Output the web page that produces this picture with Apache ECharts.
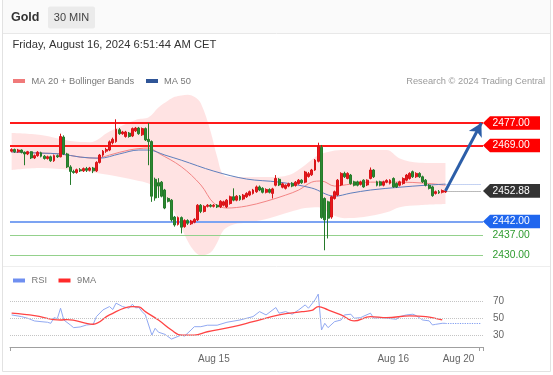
<!DOCTYPE html>
<html><head><meta charset="utf-8">
<script src="https://cdn.jsdelivr.net/npm/echarts@6/dist/echarts.min.js"></script>
<style>html,body{margin:0;padding:0;background:#fff;}#c{width:553px;height:375px;}</style>
</head><body><div id="c"></div>
<script>
const title = 'Gold';
const timeframe = '30 MIN';
const timestamp = 'Friday, August 16, 2024 6:51:44 AM CET';
const credit = 'Research \u00A9 2024 Trading Central';
const legendMain = ['MA 20 + Bollinger Bands', 'MA 50'];
const legendRsi = ['RSI', '9MA'];

const slotCount = 145;
const xTickLabels = ['Aug 15', 'Aug 16', 'Aug 20'];
const xTickSlots = [62, 117, 137];

// [open, close, low, high]
const candles = [
[2467.0,2467.6,2466.6,2468.0],[2467.6,2466.8,2466.4,2467.9],[2466.8,2467.4,2466.4,2467.8],[2467.4,2466.6,2466.2,2467.6],[2466.6,2466.0,2462.0,2466.9],
[2466.0,2466.8,2465.6,2467.1],[2466.8,2464.6,2464.2,2467.0],[2464.6,2465.4,2464.2,2465.8],[2465.4,2466.6,2465.0,2467.0],[2466.4,2465.2,2464.8,2466.8],
[2465.2,2464.4,2464.0,2465.6],[2464.4,2465.0,2464.0,2465.4],[2465.0,2463.6,2463.2,2465.4],[2463.6,2465.4,2463.2,2465.8],[2465.4,2465.0,2464.6,2465.8],
[2465.0,2472.2,2464.8,2473.2],[2472.0,2466.0,2465.6,2472.6],[2466.0,2461.4,2461.0,2466.4],[2461.4,2459.8,2455.0,2462.0],[2459.8,2459.4,2459.0,2460.4],
[2459.4,2460.4,2459.0,2460.8],[2460.4,2460.0,2459.6,2461.0],[2460.0,2460.8,2459.6,2461.2],[2460.8,2460.2,2459.6,2461.4],[2460.2,2461.0,2459.8,2461.4],
[2461.0,2460.0,2459.2,2461.4],[2460.0,2463.0,2459.6,2463.4],[2463.0,2465.6,2462.6,2466.0],[2465.6,2467.0,2465.0,2467.4],[2467.0,2467.6,2466.4,2468.2],
[2467.4,2470.3,2467.0,2470.8],[2470.0,2471.2,2469.4,2471.8],[2470.4,2474.8,2470.0,2478.3],[2474.6,2473.2,2472.8,2475.2],[2473.2,2473.8,2472.8,2474.2],
[2472.2,2473.8,2471.8,2474.2],[2473.4,2472.2,2471.8,2473.8],[2472.4,2475.0,2472.0,2475.4],[2474.2,2475.2,2473.8,2475.6],[2475.2,2473.2,2472.8,2475.6],
[2472.8,2475.0,2472.4,2475.4],[2475.0,2471.0,2470.6,2475.4],[2471.2,2470.4,2462.0,2477.0],[2470.4,2451.0,2449.0,2470.8],[2457.0,2450.4,2449.4,2457.6],
[2455.8,2454.6,2450.4,2457.4],[2456.0,2451.0,2450.6,2456.4],[2453.2,2446.8,2446.4,2453.6],[2450.2,2449.2,2448.8,2450.6],[2449.6,2442.6,2442.0,2450.0],
[2443.6,2440.8,2440.2,2444.0],[2441.0,2443.4,2440.6,2443.8],[2443.4,2440.0,2437.8,2443.8],[2440.2,2442.4,2439.8,2442.8],[2442.4,2441.4,2440.8,2442.8],
[2441.2,2442.2,2440.8,2442.6],[2441.8,2442.8,2441.4,2443.2],[2442.6,2447.8,2442.2,2448.2],[2447.8,2445.6,2445.0,2448.2],[2445.6,2447.4,2445.2,2447.8],
[2447.4,2447.8,2447.0,2448.2],[2447.8,2447.4,2447.0,2448.2],[2447.4,2447.8,2447.0,2448.2],[2447.8,2447.2,2446.8,2448.2],[2447.2,2449.2,2446.8,2449.6],
[2447.8,2449.0,2447.4,2449.4],[2447.2,2449.6,2446.8,2450.0],[2448.4,2450.8,2448.0,2451.2],[2450.8,2449.6,2449.2,2453.8],[2449.6,2451.0,2449.2,2451.4],
[2451.0,2449.8,2449.4,2451.4],[2450.0,2451.4,2449.6,2451.8],[2450.8,2452.0,2450.4,2452.4],[2451.4,2452.6,2451.0,2453.0],[2452.0,2453.2,2451.6,2453.6],
[2452.6,2454.3,2452.2,2454.8],[2454.3,2453.2,2452.8,2454.8],[2453.8,2452.4,2452.0,2454.2],[2452.4,2453.4,2452.0,2453.8],[2453.4,2452.4,2452.0,2453.8],
[2452.0,2453.6,2450.2,2454.0],[2454.9,2457.3,2454.5,2458.5],[2457.0,2455.0,2454.6,2457.4],[2454.2,2455.4,2453.8,2455.8],[2453.8,2454.9,2453.4,2455.2],
[2454.6,2455.4,2454.2,2455.8],[2455.6,2454.6,2454.2,2456.0],[2454.8,2456.0,2454.4,2456.4],[2455.5,2456.7,2455.1,2457.1],[2456.7,2455.8,2455.4,2457.0],
[2456.0,2459.6,2455.6,2460.0],[2458.0,2459.0,2457.6,2459.6],[2458.6,2460.3,2458.2,2460.7],[2460.3,2463.8,2460.0,2464.2],[2463.4,2468.8,2463.0,2470.0],
[2468.4,2443.4,2443.0,2469.2],[2450.2,2442.6,2431.8,2450.6],[2449.0,2443.2,2436.0,2449.4],[2443.6,2450.8,2443.0,2451.2],[2450.2,2452.6,2449.8,2453.0],
[2451.4,2456.7,2451.0,2457.1],[2455.0,2459.1,2454.6,2459.5],[2459.1,2457.9,2457.5,2459.7],[2457.3,2459.1,2457.0,2459.5],[2458.5,2455.5,2455.1,2458.9],
[2456.1,2454.9,2454.5,2456.5],[2456.1,2454.9,2454.5,2456.5],[2455.2,2456.1,2454.8,2456.5],[2456.7,2454.3,2454.0,2457.0],[2455.0,2456.7,2454.6,2457.0],
[2457.3,2460.3,2457.0,2461.2],[2460.3,2457.9,2457.5,2460.6],[2456.1,2454.9,2454.5,2456.5],[2456.1,2454.9,2454.5,2456.5],[2454.9,2456.1,2454.5,2456.5],
[2456.0,2456.6,2455.6,2457.0],[2455.6,2456.7,2455.2,2457.0],[2457.3,2454.3,2454.0,2457.7],[2455.5,2454.3,2453.9,2455.9],[2454.9,2456.1,2454.5,2456.5],
[2455.5,2457.3,2455.1,2457.7],[2456.7,2458.5,2456.3,2458.9],[2457.3,2459.1,2456.9,2459.5],[2459.7,2457.9,2457.5,2460.1],[2457.9,2459.1,2457.5,2459.5],
[2459.1,2457.9,2457.5,2459.5],[2457.9,2456.1,2455.7,2458.3],[2456.7,2454.9,2454.5,2457.1],[2454.9,2453.8,2453.4,2455.3],[2454.3,2451.2,2450.8,2454.7],
[2452.0,2452.6,2451.6,2453.0],[2452.6,2452.2,2451.8,2453.2],[2452.4,2453.0,2452.0,2453.4],[2452.5,2452.88,2452.2,2453.2]
];

const bbSlots  = [0,9,18,24,30,38,42,45,48,50,52,54,56,58,61,63,65,68,73,79,85,90,94,98,102,108,115,119,125,133];
const bbUpper  = [2473.4,2472.7,2470.6,2470.2,2474.0,2478.1,2479.0,2482.5,2485.0,2486.3,2486.8,2487.0,2486.3,2484.0,2474.0,2465.0,2458.5,2457.8,2457.8,2457.8,2458.5,2462.1,2465.6,2467.0,2467.4,2467.4,2467.4,2464.4,2462.9,2462.8];
const bbLower  = [2460.3,2461.0,2460.3,2459.6,2458.5,2456.7,2455.5,2453.0,2449.0,2445.0,2440.0,2435.0,2431.5,2430.0,2431.0,2434.5,2439.0,2441.0,2441.8,2443.2,2445.3,2446.8,2447.1,2444.6,2443.2,2443.6,2445.3,2447.1,2447.8,2448.2];

const ma20Slots = [0,9,15,21,26,30,36,42,45,52,58,62,66,72,78,84,88,92,95,99,104,110,119,127,133];
const ma20 = [2466.7,2466.3,2466.0,2464.9,2464.5,2465.6,2467.4,2468.1,2466.3,2461.5,2455.0,2448.5,2446.8,2447.5,2449.2,2451.4,2453.2,2456.0,2456.4,2454.6,2455.3,2456.0,2456.0,2455.6,2454.9];

const ma50Slots = [0,9,15,21,27,33,39,42,47,52,62,72,82,92,99,104,110,119,127,133];
const ma50 = [2466.7,2466.3,2466.0,2464.9,2464.5,2466.0,2467.4,2467.4,2465.6,2463.8,2459.9,2457.1,2456.0,2453.9,2451.0,2452.1,2453.2,2454.2,2454.9,2455.3];

const rsiSlots = [0,3,5,7,9,11,12,13,14,15,16,18,19,21,23,25,26,28,30,31,32,34,36,37,38,39,40,41,43,44,45,47,49,52,53,55,56,58,60,63,66,70,74,76,78,81,82,84,86,88,90,91,93,94,95,96,97,99,101,102,104,105,107,108,110,111,113,115,118,119,121,123,124,126,128,129,130,132,133];
const rsi = [53.8,51.9,49.9,46.9,46.1,45.4,44.2,50.7,49.5,61.5,48.0,42.3,39.2,40.0,42.3,43.0,51.9,59.6,63.4,60.0,67.3,63.4,61.5,66.1,62.0,62.3,57.6,53.8,30.7,38.5,34.0,31.5,26.1,30.7,29.5,36.5,40.3,40.3,42.0,42.0,45.4,48.0,51.9,57.6,53.8,62.3,55.8,57.6,54.6,59.6,65.3,61.5,71.1,77.7,36.5,44.2,39.2,46.1,48.0,53.8,54.6,50.0,50.7,52.5,55.8,50.0,50.7,50.0,48.8,51.9,53.8,54.6,53.0,48.0,47.0,42.3,43.0,44.2,44.2];

const rsi9Slots = [0,7,15,17,25,30,37,39,41,45,49,52,56,60,68,74,82,89,92,94,97,101,105,110,115,122,127,132];
const rsi9 = [55.8,53.0,48.0,48.5,43.1,53.8,63.4,63.0,57.6,48.0,36.5,30.7,30.7,34.5,40.3,46.1,53.8,57.6,59.0,63.4,59.6,53.8,46.9,51.9,50.7,52.7,51.9,48.0];

const resistanceLevels = [2477.00, 2469.00];
const pivotLevels = [2442.00];
const supportLevels = [2437.00, 2430.00];
const targetPrice = 2477.00;
const rsiLevels = [30, 50, 70];

const lastSlot = candles.length - 1;
const lastPrice = candles[lastSlot][1];
const lastRsi = rsi[rsi.length - 1];
const lastMa50 = ma50[ma50.length - 1];
const categories = Array.from({length: slotCount}, (_, i) => String(i));
const pairs = (s, v) => s.map((x, k) => [x, v[k]]);

const FONT = '"Liberation Sans", Arial, Helvetica, sans-serif';

const levelItems = [], levelKinds = [];
resistanceLevels.forEach(v => { levelItems.push([slotCount - 1, v]); levelKinds.push('res'); });
pivotLevels.forEach(v => { levelItems.push([slotCount - 1, v]); levelKinds.push('pivot'); });
levelItems.push([slotCount - 1, lastPrice]); levelKinds.push('last');
supportLevels.forEach(v => { levelItems.push([slotCount - 1, v]); levelKinds.push('sup'); });
const labelStyles = {
  res: {box: '#ff0000', text: '#ffffff'},
  pivot: {box: '#1f66ee', text: '#ffffff'},
  last: {box: '#333333', text: '#ffffff'},
  sup: {box: null, text: '#2e9b2e'}
};

function renderLevelLabel(params, api) {
  const v = api.value(1);
  const p = api.coord([api.value(0), v]);
  const half = api.size([1, 0])[0] / 2;
  const x0 = p[0] + half;
  const y = p[1];
  const st = labelStyles[levelKinds[params.dataIndex]];
  const children = [];
  if (st.box) {
    children.push({type: 'polygon', shape: {points: [[x0, y], [x0 + 7, y - 6.8], [x0 + 57, y - 6.8], [x0 + 57, y + 6.8], [x0 + 7, y + 6.8]]}, style: {fill: st.box}});
  }
  children.push({type: 'text', x: x0 + 9.6, y: y, style: {text: v.toFixed(2), fill: st.text, font: '10.3px ' + FONT, align: 'left', verticalAlign: 'middle'}});
  return {type: 'group', children};
}

const chart = echarts.init(document.getElementById('c'), null, {renderer: 'canvas'});
chart.setOption({
  animation: false,
  backgroundColor: '#ffffff',
  textStyle: {fontFamily: FONT},
  grid: [
    {left: 10, right: 70, top: 92, height: 169},
    {left: 10, right: 70, top: 286, height: 61}
  ],
  xAxis: [
    {type: 'category', gridIndex: 0, data: categories, boundaryGap: true, show: false},
    {type: 'category', gridIndex: 1, data: categories, boundaryGap: true,
      axisLine: {lineStyle: {color: '#a0a0a0', width: 1}},
      axisTick: {show: true, length: 4, interval: (i) => i === 0 || i === slotCount - 1, lineStyle: {color: '#a0a0a0'}},
      axisLabel: {interval: (i) => xTickSlots.indexOf(i) >= 0, formatter: (val, i) => { const k = xTickSlots.indexOf(Number(val)); return k >= 0 ? xTickLabels[k] : ''; }, color: '#666', fontSize: 10, margin: 7, fontFamily: FONT}
    }
  ],
  yAxis: [
    {type: 'value', gridIndex: 0, min: 2428, max: 2488, show: false},
    {type: 'value', gridIndex: 1, min: 17, max: 87, position: 'right',
      axisLine: {show: false}, axisTick: {show: false}, splitLine: {show: false},
      axisLabel: {customValues: rsiLevels, color: '#666', fontSize: 10, margin: 10, fontFamily: FONT}}
  ],
  graphic: [
    {type: 'rect', silent: true, z: -10, shape: {x: 2.5, y: -1, width: 548, height: 372.5}, style: {fill: '#ffffff', stroke: '#e2e2e2', lineWidth: 1}},
    {type: 'rect', silent: true, z: -9, shape: {x: 3, y: 0, width: 547, height: 33}, style: {fill: '#fafafa'}},
    {type: 'line', silent: true, shape: {x1: 3, y1: 33.5, x2: 550, y2: 33.5}, style: {stroke: '#e8e8e8', lineWidth: 1}},
    {type: 'text', x: 11, y: 17.5, style: {text: title, font: 'bold 12.5px ' + FONT, fill: '#333', align: 'left', verticalAlign: 'middle'}},
    {type: 'rect', shape: {x: 48, y: 6.5, width: 47, height: 22, r: 2}, style: {fill: '#ebebeb'}},
    {type: 'text', x: 71.5, y: 17.5, style: {text: timeframe, font: '11px ' + FONT, fill: '#444', align: 'center', verticalAlign: 'middle'}},
    {type: 'text', x: 12.5, y: 45, style: {text: timestamp, font: '11.2px ' + FONT, fill: '#333', align: 'left', verticalAlign: 'middle'}},
    {type: 'rect', shape: {x: 13, y: 79, width: 12, height: 4}, style: {fill: '#f07a7a'}},
    {type: 'text', x: 31.5, y: 81, style: {text: legendMain[0], font: '9.3px ' + FONT, fill: '#777', align: 'left', verticalAlign: 'middle'}},
    {type: 'rect', shape: {x: 146, y: 79, width: 12, height: 4}, style: {fill: '#2f5597'}},
    {type: 'text', x: 164, y: 81, style: {text: legendMain[1], font: '9.3px ' + FONT, fill: '#777', align: 'left', verticalAlign: 'middle'}},
    {type: 'text', x: 545, y: 81, style: {text: credit, font: '9.3px ' + FONT, fill: '#9a9a9a', align: 'right', verticalAlign: 'middle'}},
    {type: 'line', silent: true, shape: {x1: 3, y1: 266.5, x2: 550, y2: 266.5}, style: {stroke: '#eeeeee', lineWidth: 1}},
    {type: 'rect', shape: {x: 13, y: 278.5, width: 12, height: 4}, style: {fill: '#6f8ff0'}},
    {type: 'text', x: 31.5, y: 280.5, style: {text: legendRsi[0], font: '9.3px ' + FONT, fill: '#777', align: 'left', verticalAlign: 'middle'}},
    {type: 'rect', shape: {x: 58.5, y: 278.5, width: 12, height: 4}, style: {fill: '#ff2a2a'}},
    {type: 'text', x: 77, y: 280.5, style: {text: legendRsi[1], font: '9.3px ' + FONT, fill: '#777', align: 'left', verticalAlign: 'middle'}}
  ],
  series: [
    {type: 'line', name: 'bbLower', xAxisIndex: 0, yAxisIndex: 0, data: pairs(bbSlots, bbLower), stack: 'bb', smooth: 0.35, symbol: 'none', lineStyle: {width: 0, opacity: 0}, silent: true, z: 1},
    {type: 'line', name: 'bbBand', xAxisIndex: 0, yAxisIndex: 0, data: bbSlots.map((s, k) => [s, +(bbUpper[k] - bbLower[k]).toFixed(2)]), stack: 'bb', smooth: 0.35, symbol: 'none', lineStyle: {width: 0, opacity: 0}, areaStyle: {color: 'rgba(255,0,0,0.11)', opacity: 1}, silent: true, z: 1},
    {type: 'line', name: 'MA 20', xAxisIndex: 0, yAxisIndex: 0, data: pairs(ma20Slots, ma20), smooth: 0.35, symbol: 'none', lineStyle: {color: '#f38585', width: 1}, silent: true, z: 3},
    {type: 'line', name: 'MA 50', xAxisIndex: 0, yAxisIndex: 0, data: pairs(ma50Slots, ma50), smooth: 0.35, symbol: 'none', lineStyle: {color: '#5f7fbd', width: 1}, silent: true, z: 3,
      markLine: {silent: true, symbol: ['none', 'none'], label: {show: false},
        data: [[{coord: [lastSlot, lastMa50], lineStyle: {color: '#8aa6e6', type: 'dotted', width: 1}}, {coord: [slotCount - 1, lastMa50]}]]}
    },
    {type: 'candlestick', name: 'Gold', xAxisIndex: 0, yAxisIndex: 0, data: candles, barWidth: '74%', z: 4,
      itemStyle: {color: '#e8181d', color0: '#2b8a31', borderColor: '#d81418', borderColor0: '#267a2b', borderWidth: 1},
      markLine: {silent: true, symbol: ['none', 'none'], label: {show: false}, z: 2,
        data: [
          ...resistanceLevels.map(v => ({yAxis: v, lineStyle: {color: '#ff1a1a', width: 2, type: 'solid'}})),
          ...pivotLevels.map(v => ({yAxis: v, lineStyle: {color: '#7ca3f2', width: 2, type: 'solid'}})),
          ...supportLevels.map(v => ({yAxis: v, lineStyle: {color: '#94d18c', width: 1.2, type: 'solid'}})),
          [{coord: [lastSlot, lastPrice], lineStyle: {color: '#777', type: 'dotted', width: 1}}, {coord: [slotCount - 1, lastPrice]}]
        ]}
    },
    {type: 'line', name: 'arrow', xAxisIndex: 0, yAxisIndex: 0, data: [], z: 6,
      markLine: {silent: true, symbol: ['none', 'arrow'], symbolSize: [11, 13], label: {show: false},
        lineStyle: {color: '#2c5ea8', width: 3, type: 'solid'},
        data: [[{coord: [lastSlot, lastPrice]}, {coord: [slotCount - 1, targetPrice]}]]}
    },
    {type: 'custom', name: 'levels', xAxisIndex: 0, yAxisIndex: 0, coordinateSystem: 'cartesian2d', clip: false, silent: true, z: 10,
      encode: {x: 0, y: 1}, data: levelItems, renderItem: renderLevelLabel},
    {type: 'line', name: 'RSI', xAxisIndex: 1, yAxisIndex: 1, data: pairs(rsiSlots, rsi), symbol: 'none', lineStyle: {color: '#91a9f2', width: 1}, silent: true, z: 3,
      markLine: {silent: true, symbol: ['none', 'none'], label: {show: false},
        data: [
          ...rsiLevels.map(v => ({yAxis: v, lineStyle: {color: '#c4c4c4', type: 'dotted', width: 1}})),
          [{coord: [rsiSlots[rsiSlots.length - 1], lastRsi], lineStyle: {color: '#7f9cf0', type: 'dotted', width: 1.2}}, {coord: [slotCount - 1, lastRsi]}]
        ]}
    },
    {type: 'line', name: '9MA', xAxisIndex: 1, yAxisIndex: 1, data: pairs(rsi9Slots, rsi9), smooth: 0.4, symbol: 'none', lineStyle: {color: '#ff4444', width: 1.3}, silent: true, z: 4}
  ]
});
</script></body></html>
